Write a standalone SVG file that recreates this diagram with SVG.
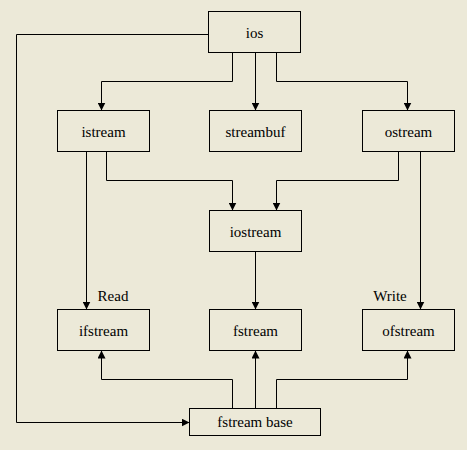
<svg xmlns="http://www.w3.org/2000/svg" width="467" height="450" viewBox="0 0 467 450">
<defs>
<style>
.box{fill:none;stroke:#000;stroke-width:1}
.t{font-family:"Liberation Serif","Times New Roman",serif;font-size:15px;fill:#000;text-anchor:middle}
.c{fill:none;stroke:#000;stroke-width:1}
</style>
<marker id="ah" viewBox="0 0 8 8" refX="8" refY="4" markerWidth="8" markerHeight="8" markerUnits="userSpaceOnUse" orient="auto">
<path d="M0,0 L8,4 L0,8 Z" fill="#000"/>
</marker>
</defs>
<rect width="467" height="450" fill="#ECE9D8"/>
<g id="connectors">
<path class="c" d="M208.5,34.5 H16.5 V422.5 H189.5" marker-end="url(#ah)"/>
<path class="c" d="M232.5,52.5 V81.5 H101.5 V110.5" marker-end="url(#ah)"/>
<path class="c" d="M255.5,52.5 V110.5" marker-end="url(#ah)"/>
<path class="c" d="M276.5,52.5 V81.5 H407.5 V110.5" marker-end="url(#ah)"/>
<path class="c" d="M86.5,151.5 V309.5" marker-end="url(#ah)"/>
<path class="c" d="M106.5,151.5 V180.5 H232.5 V210.5" marker-end="url(#ah)"/>
<path class="c" d="M398.5,151.5 V180.5 H276.5 V210.5" marker-end="url(#ah)"/>
<path class="c" d="M420.5,151.5 V309.5" marker-end="url(#ah)"/>
<path class="c" d="M255.5,251.5 V309.5" marker-end="url(#ah)"/>
<path class="c" d="M232.5,408.5 V379.5 H101.5 V350.5" marker-end="url(#ah)"/>
<path class="c" d="M255.5,408.5 V350.5" marker-end="url(#ah)"/>
<path class="c" d="M276.5,408.5 V379.5 H407.5 V350.5" marker-end="url(#ah)"/>
<text class="t" x="113" y="301">Read</text>
<text class="t" x="390" y="301">Write</text>
</g>
<g id="ios"><rect class="box" x="208.5" y="11.5" width="92" height="41"/><text class="t" x="254.5" y="37.5">ios</text></g>
<g id="istream"><rect class="box" x="57.5" y="110.5" width="92" height="41"/><text class="t" x="103.5" y="136.5">istream</text></g>
<g id="streambuf"><rect class="box" x="209.5" y="110.5" width="92" height="41"/><text class="t" x="255.5" y="136.5">streambuf</text></g>
<g id="ostream"><rect class="box" x="362.5" y="110.5" width="92" height="41"/><text class="t" x="408.5" y="136.5">ostream</text></g>
<g id="iostream"><rect class="box" x="209.5" y="210.5" width="92" height="41"/><text class="t" x="255.5" y="236.5">iostream</text></g>
<g id="ifstream"><rect class="box" x="57.5" y="309.5" width="92" height="41"/><text class="t" x="103.5" y="335.5">ifstream</text></g>
<g id="fstream"><rect class="box" x="209.5" y="309.5" width="92" height="41"/><text class="t" x="255.5" y="335.5">fstream</text></g>
<g id="ofstream"><rect class="box" x="362.5" y="309.5" width="92" height="41"/><text class="t" x="408.5" y="335.5">ofstream</text></g>
<g id="fstream_base"><rect class="box" x="189.5" y="408.5" width="131" height="27"/><text class="t" x="255" y="427">fstream base</text></g>
</svg>
